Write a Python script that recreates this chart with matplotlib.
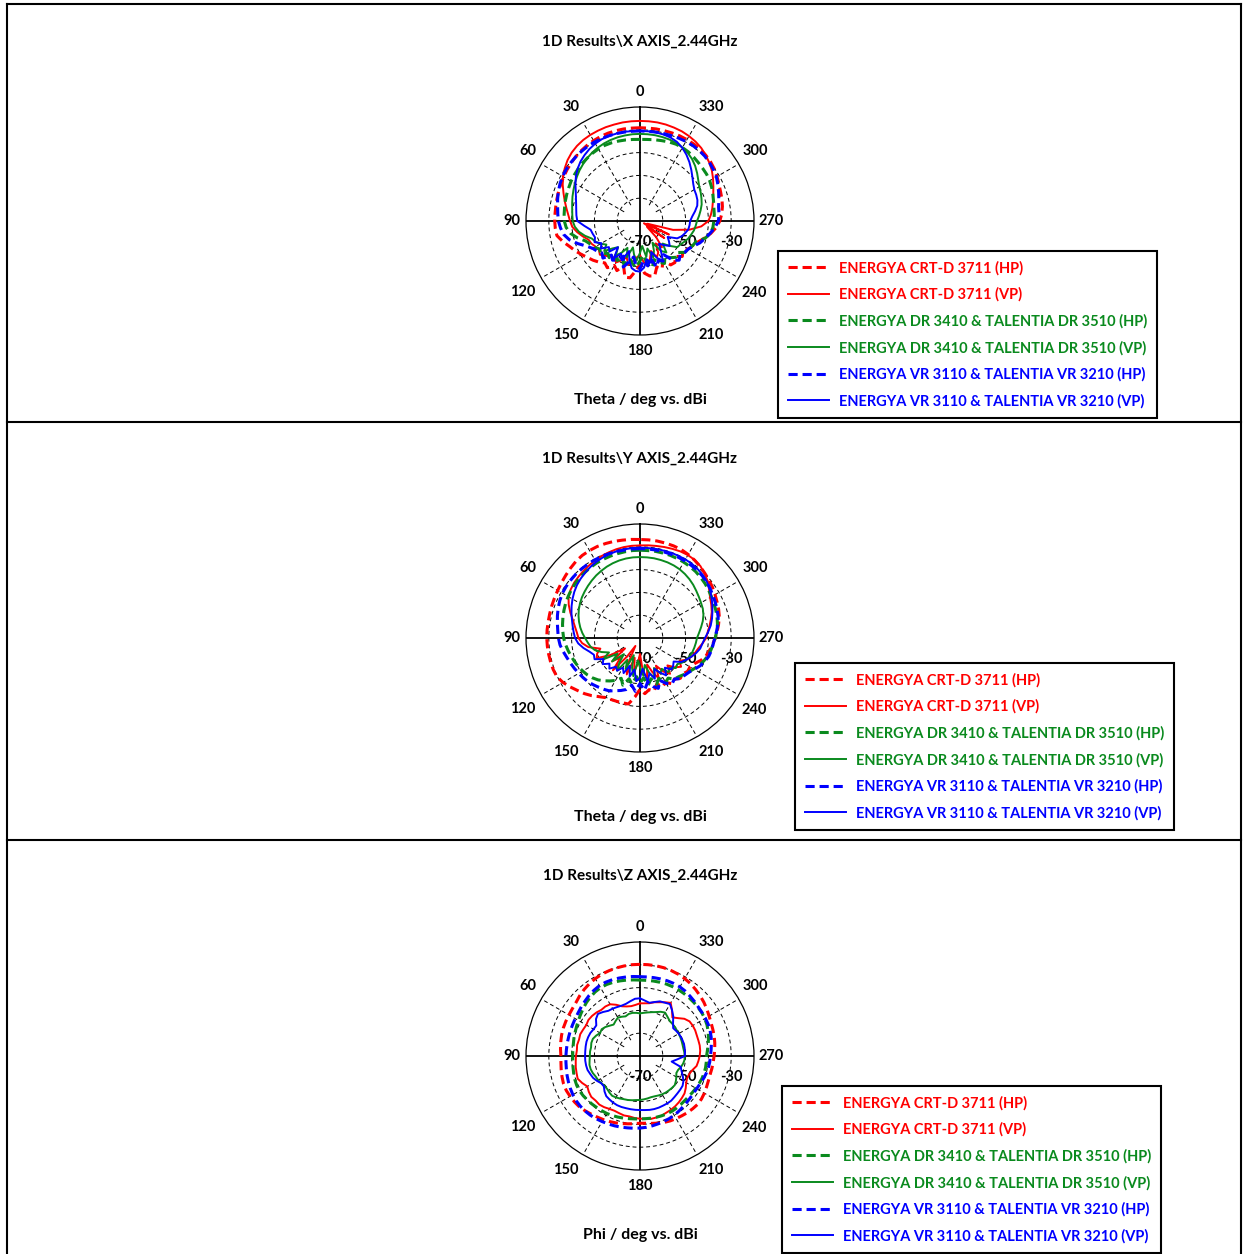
import numpy as np
import matplotlib
matplotlib.use("Agg")
import matplotlib.pyplot as plt
from matplotlib.lines import Line2D

plt.rcParams['font.family'] = ['Lato', 'DejaVu Sans']
plt.rcParams['font.weight'] = 'bold'

# angle grid of the measurements (deg), one value every 5 deg
angles = list(range(0, 360, 5))

# ---- X AXIS (Theta), dBi ----
x_crt_hp = [-29.1, -29.1, -29.0, -29.0, -29.0, -29.1, -29.3, -29.5, -29.8, -30.1, -30.5, -30.9,
            -31.3, -31.7, -32.0, -32.3, -32.5, -32.6, -32.6, -32.7, -33.0, -35.0, -37.2, -38.8,
            -40.5, -42.0, -43.2, -44.5, -46.0, -45.0, -47.5, -46.0, -49.0, -44.5, -44.7, -48.0,
            -51.0, -47.0, -45.5, -45.1, -48.5, -47.0, -50.0, -46.5, -46.2, -48.0, -45.8, -47.0,
            -45.5, -44.5, -43.0, -40.8, -38.5, -36.5, -35.0, -34.0, -33.3, -32.8, -32.4, -31.8,
            -31.0, -30.2, -29.6, -29.2, -28.9, -28.8, -28.8, -28.8, -28.9, -29.0, -29.0, -29.1]
x_crt_vp = [-26.1, -26.1, -26.1, -26.2, -26.2, -26.3, -26.4, -26.6, -27.0, -27.6, -28.5, -29.7,
            -31.0, -32.6, -34.3, -35.8, -37.2, -38.4, -39.3, -40.2, -42.0, -44.0, -46.0, -46.5,
            -47.5, -48.0, -47.0, -48.5, -49.5, -50.5, -49.0, -51.0, -53.0, -50.0, -52.0, -54.0,
            -55.0, -52.0, -50.5, -53.0, -56.0, -52.5, -54.0, -58.0, -55.0, -60.0, -66.0, -57.0,
            -68.0, -56.0, -66.5, -55.0, -48.0, -43.0, -40.0, -38.8, -37.8, -36.9, -35.8, -34.5,
            -33.0, -31.5, -30.3, -29.2, -28.2, -27.5, -27.0, -26.6, -26.4, -26.2, -26.1, -26.1]
x_dr_hp = [-34.2, -34.1, -33.9, -33.7, -33.5, -33.4, -33.5, -33.7, -34.0, -34.2, -34.5, -34.8,
           -35.1, -35.5, -35.8, -36.1, -36.4, -36.6, -36.8, -37.5, -39.0, -41.5, -44.5, -46.0,
           -47.0, -48.5, -47.5, -50.0, -49.0, -51.5, -50.0, -52.0, -49.5, -53.0, -51.0, -49.5,
           -52.5, -55.0, -51.0, -49.0, -52.0, -50.0, -48.5, -51.0, -49.0, -47.5, -48.5, -46.0,
           -45.5, -44.5, -43.8, -40.5, -38.6, -37.9, -37.6, -37.3, -37.1, -36.6, -36.0, -35.3,
           -34.7, -34.3, -34.1, -33.8, -33.4, -33.0, -32.8, -32.8, -33.1, -33.5, -33.8, -34.1]
x_dr_vp = [-31.8, -31.8, -31.9, -32.0, -32.2, -32.5, -32.9, -33.4, -34.0, -34.7, -35.4, -36.2,
           -37.0, -37.8, -38.5, -39.2, -39.8, -40.2, -40.5, -41.3, -42.8, -45.0, -47.5, -48.5,
           -50.0, -52.0, -49.5, -53.0, -55.0, -51.5, -54.0, -57.0, -53.0, -58.0, -55.0, -52.5,
           -56.0, -59.0, -54.0, -57.5, -53.0, -55.5, -59.0, -54.0, -52.0, -56.0, -53.0, -50.0,
           -49.5, -48.5, -47.5, -46.8, -46.0, -45.5, -45.0, -44.0, -43.0, -42.0, -41.3, -40.6,
           -40.0, -38.8, -37.3, -35.8, -34.5, -33.5, -32.8, -32.3, -32.0, -31.9, -31.8, -31.8]
x_vr_hp = [-30.5, -30.5, -30.4, -30.3, -30.2, -30.1, -30.0, -30.0, -30.1, -30.2, -30.3, -30.5,
           -30.8, -31.3, -31.9, -32.6, -33.3, -33.8, -34.2, -35.0, -36.0, -38.0, -41.0, -44.0,
           -46.0, -47.0, -48.2, -47.0, -50.5, -49.0, -50.3, -53.0, -48.5, -51.5, -54.0, -50.3,
           -49.0, -52.5, -50.0, -53.5, -48.5, -51.0, -49.7, -52.0, -47.5, -45.7, -47.0, -46.0,
           -45.5, -44.0, -42.0, -40.5, -38.8, -37.0, -35.6, -35.2, -35.0, -34.2, -33.3, -32.3,
           -31.3, -30.7, -30.2, -29.8, -29.6, -29.6, -29.7, -29.9, -30.1, -30.3, -30.4, -30.5]
x_vr_vp = [-30.5, -30.4, -30.3, -30.3, -30.3, -30.4, -30.8, -31.4, -32.2, -33.1, -34.3, -35.7,
           -37.3, -38.9, -40.1, -41.0, -41.6, -42.0, -42.5, -45.5, -48.0, -48.5, -49.0, -48.0,
           -50.5, -49.0, -52.2, -51.0, -55.0, -50.0, -53.5, -51.0, -56.0, -52.0, -49.0, -48.0,
           -47.8, -49.5, -53.0, -51.0, -55.5, -52.0, -50.0, -54.0, -57.0, -55.0, -53.0, -54.5,
           -56.0, -52.0, -50.5, -49.5, -48.5, -48.2, -48.0, -47.0, -45.5, -44.0, -43.2, -42.8,
           -42.5, -41.5, -40.0, -38.2, -36.3, -34.5, -32.9, -31.7, -31.0, -30.7, -30.5, -30.5]

# ---- Y AXIS (Theta), dBi ----
y_crt_hp = [-26.8, -26.6, -26.4, -26.1, -25.9, -25.7, -25.7, -25.8, -26.2, -26.8, -27.4, -27.9,
            -28.3, -28.6, -28.8, -29.0, -29.1, -29.1, -29.1, -29.2, -29.3, -29.4, -29.5, -29.8,
            -31.0, -32.6, -34.2, -35.5, -37.0, -38.6, -39.8, -40.2, -40.4, -40.6, -40.6, -44.0,
            -47.5, -45.5, -47.0, -46.0, -48.5, -46.5, -47.5, -45.5, -46.5, -45.0, -45.5, -44.5,
            -44.7, -43.5, -41.5, -40.0, -39.0, -38.0, -37.0, -36.0, -35.0, -34.0, -33.3, -32.7,
            -32.0, -31.2, -30.5, -29.8, -29.0, -28.3, -27.7, -27.2, -27.0, -26.9, -26.8, -26.8]
y_crt_vp = [-29.4, -29.4, -29.5, -29.7, -30.0, -30.3, -30.7, -31.1, -31.5, -31.9, -32.3, -32.9,
            -33.8, -35.5, -37.5, -39.5, -41.0, -42.2, -43.0, -44.5, -47.0, -52.0, -50.0, -49.0,
            -55.0, -62.0, -54.0, -58.0, -51.5, -60.0, -66.0, -57.0, -53.0, -61.0, -55.0, -58.5,
            -63.0, -55.0, -52.0, -58.0, -54.0, -50.5, -56.0, -52.0, -49.5, -53.0, -50.0, -48.0,
            -50.0, -47.5, -46.0, -45.0, -44.0, -42.5, -41.0, -40.2, -39.0, -37.8, -36.5, -35.5,
            -34.5, -33.0, -31.2, -30.0, -28.8, -28.2, -28.0, -28.1, -28.4, -28.7, -29.0, -29.2]
y_dr_hp = [-31.5, -31.5, -31.6, -31.7, -31.8, -31.9, -32.0, -32.2, -32.4, -32.6, -32.9, -33.2,
           -33.6, -34.0, -34.5, -35.0, -35.5, -36.0, -36.5, -37.2, -38.0, -38.8, -39.5, -40.2,
           -41.0, -41.8, -42.8, -44.0, -45.5, -47.0, -48.5, -50.5, -48.0, -51.5, -49.5, -53.0,
           -50.0, -52.5, -49.0, -51.5, -48.5, -50.5, -47.5, -48.5, -46.5, -46.0, -45.0, -44.0,
           -42.8, -41.5, -40.3, -39.3, -38.5, -37.8, -37.0, -36.2, -35.5, -35.0, -34.6, -34.2,
           -33.8, -33.3, -32.8, -32.4, -32.0, -31.8, -31.6, -31.5, -31.4, -31.4, -31.4, -31.5]
y_dr_vp = [-34.5, -34.5, -34.6, -34.8, -35.1, -35.5, -36.0, -36.5, -37.1, -37.7, -38.3, -38.9,
           -39.6, -40.4, -41.3, -42.3, -43.4, -44.6, -45.9, -47.0, -48.0, -49.5, -52.0, -55.0,
           -51.0, -58.0, -54.0, -60.0, -56.0, -52.5, -59.0, -55.0, -62.0, -56.5, -53.0, -60.0,
           -57.0, -53.5, -58.0, -54.0, -51.5, -55.5, -52.0, -53.5, -50.5, -51.5, -49.5, -50.0,
           -48.5, -47.5, -46.8, -46.2, -45.8, -45.4, -45.0, -44.0, -42.8, -41.5, -40.4, -39.6,
           -39.1, -38.5, -37.8, -37.0, -36.3, -35.7, -35.2, -34.9, -34.7, -34.6, -34.5, -34.5]
y_vr_hp = [-30.8, -30.8, -30.8, -30.7, -30.6, -30.5, -30.4, -30.3, -30.3, -30.3, -30.4, -30.5,
           -30.7, -31.2, -31.8, -32.5, -33.2, -33.8, -34.2, -34.8, -35.8, -36.8, -37.6, -38.3,
           -39.0, -39.6, -40.2, -41.0, -41.8, -42.5, -43.2, -44.5, -45.5, -46.6, -49.0, -46.5,
           -50.0, -47.0, -50.5, -48.0, -46.5, -49.5, -47.0, -45.5, -46.5, -44.8, -44.5, -43.8,
           -42.5, -41.0, -39.8, -38.8, -38.2, -37.8, -37.2, -36.3, -35.3, -34.5, -34.0, -33.5,
           -33.0, -32.4, -31.8, -31.4, -31.1, -31.0, -30.9, -30.8, -30.8, -30.8, -30.8, -30.8]
y_vr_vp = [-30.4, -30.4, -30.5, -30.6, -30.8, -31.1, -31.5, -32.0, -32.6, -33.2, -33.9, -34.8,
           -35.8, -36.9, -38.0, -39.1, -40.0, -40.8, -41.5, -42.8, -44.8, -47.0, -48.5, -48.0,
           -51.5, -50.0, -52.5, -51.0, -53.5, -52.5, -55.0, -53.0, -57.0, -52.5, -56.0, -51.0,
           -52.5, -56.5, -50.5, -54.0, -51.0, -55.0, -52.5, -50.0, -53.0, -50.5, -51.0, -52.0,
           -49.0, -47.5, -46.0, -44.5, -43.2, -42.5, -41.5, -40.0, -38.5, -37.3, -36.2, -35.0,
           -33.8, -32.6, -31.7, -31.0, -30.6, -30.3, -30.2, -30.2, -30.2, -30.3, -30.3, -30.4]

# ---- Z AXIS (Phi), dBi ----
z_crt_hp = [-29.8, -29.8, -29.9, -30.0, -30.2, -30.4, -30.8, -31.3, -31.9, -32.6, -33.4, -33.8,
            -34.0, -34.1, -34.2, -34.4, -34.7, -35.0, -35.3, -35.2, -34.9, -34.6, -34.3, -34.3,
            -34.6, -34.9, -35.3, -36.0, -36.7, -37.3, -37.8, -38.3, -38.8, -39.3, -39.8, -40.2,
            -40.5, -40.4, -40.0, -39.5, -39.0, -38.6, -38.3, -38.0, -37.6, -37.3, -37.0, -37.1,
            -37.4, -37.8, -38.1, -38.2, -38.0, -37.8, -37.5, -37.1, -36.7, -36.3, -36.0, -35.6,
            -35.0, -34.2, -33.4, -32.7, -32.0, -31.3, -30.8, -30.4, -30.1, -29.9, -29.8, -29.8]
z_crt_vp = [-46.9, -47.5, -47.8, -47.5, -46.8, -45.2, -43.8, -43.5, -43.6, -43.0, -42.6, -42.4,
            -42.8, -42.5, -42.1, -42.3, -42.0, -42.2, -41.9, -41.7, -41.4, -41.2, -40.9, -42.0,
            -43.3, -42.6, -42.1, -42.4, -42.2, -42.6, -43.2, -43.5, -43.3, -43.0, -43.1, -42.7,
            -42.5, -42.4, -42.0, -42.1, -42.2, -42.6, -42.8, -43.1, -43.5, -44.0, -44.5, -45.5,
            -46.6, -47.2, -47.0, -46.2, -44.8, -44.3, -43.8, -43.5, -43.4, -43.5, -43.5, -43.3,
            -43.3, -43.5, -44.6, -46.5, -47.9, -45.5, -43.1, -44.0, -44.9, -45.6, -46.5, -46.8]
z_dr_hp = [-36.7, -36.5, -36.2, -35.9, -35.6, -35.4, -35.4, -35.7, -36.2, -36.8, -37.5, -38.2,
           -38.8, -39.3, -39.7, -40.0, -40.3, -40.4, -40.5, -40.4, -40.2, -39.9, -39.6, -39.4,
           -39.4, -39.6, -39.9, -40.2, -40.5, -40.7, -40.9, -41.2, -41.5, -41.8, -42.1, -42.3,
           -42.4, -42.4, -42.3, -42.2, -42.1, -42.0, -42.0, -42.1, -42.2, -42.3, -42.2, -42.0,
           -41.7, -41.4, -41.1, -40.9, -40.8, -40.8, -40.8, -40.3, -39.6, -38.9, -38.2, -37.6,
           -37.2, -36.9, -36.8, -36.7, -36.6, -36.5, -36.4, -36.4, -36.4, -36.5, -36.6, -36.7]
z_dr_vp = [-51.3, -51.0, -50.8, -50.9, -51.5, -51.0, -50.6, -51.3, -52.0, -51.2, -50.2, -49.5,
           -49.8, -48.8, -48.0, -47.9, -48.2, -48.0, -48.0, -47.8, -47.5, -47.6, -48.0, -48.6,
           -48.8, -49.3, -49.7, -49.6, -49.1, -48.7, -49.0, -49.4, -49.8, -50.0, -50.3, -50.6,
           -50.7, -50.9, -51.1, -51.3, -51.2, -50.9, -50.6, -50.4, -50.3, -50.2, -50.1, -50.8,
           -51.6, -52.4, -52.2, -51.4, -50.8, -50.4, -50.4, -50.5, -50.7, -50.7, -50.6, -50.5,
           -50.4, -50.3, -50.1, -50.0, -49.8, -49.0, -48.0, -48.6, -49.5, -50.1, -50.6, -51.0]
z_vr_hp = [-35.2, -35.0, -34.8, -34.6, -34.4, -34.3, -34.4, -34.8, -35.3, -35.9, -36.4, -36.9,
           -37.2, -37.4, -37.5, -37.6, -37.6, -37.6, -37.5, -37.4, -37.2, -36.9, -36.6, -36.3,
           -36.0, -35.8, -35.8, -35.9, -36.1, -36.4, -36.8, -37.1, -37.4, -37.7, -38.0, -38.2,
           -38.4, -38.6, -38.9, -39.2, -39.5, -39.7, -40.0, -40.4, -40.8, -41.1, -41.3, -41.4,
           -41.3, -41.0, -40.5, -40.0, -39.6, -39.3, -39.1, -38.7, -38.2, -37.7, -37.3, -37.0,
           -36.9, -36.8, -36.6, -36.2, -35.8, -35.3, -35.0, -34.9, -34.9, -35.0, -35.1, -35.2]
z_vr_vp = [-44.7, -44.8, -45.6, -46.3, -46.5, -46.3, -46.0, -45.8, -44.8, -43.9, -44.8, -46.6,
           -46.5, -46.0, -45.8, -45.7, -45.8, -45.9, -45.9, -45.9, -46.0, -46.2, -46.8, -47.3,
           -48.2, -49.2, -49.3, -48.0, -47.0, -46.7, -46.4, -46.2, -46.2, -46.3, -46.3, -46.3,
           -46.3, -46.2, -46.0, -45.9, -45.9, -46.0, -46.0, -46.1, -46.5, -46.8, -47.0, -47.2,
           -48.0, -49.3, -50.6, -51.5, -55.9, -53.5, -50.3, -50.2, -50.1, -50.0, -50.1, -50.2,
           -50.4, -50.7, -51.0, -49.5, -47.3, -45.5, -43.7, -44.2, -44.5, -45.5, -46.3, -45.6]

series_labels = ["ENERGYA CRT-D 3711 (HP)", "ENERGYA CRT-D 3711 (VP)",
                 "ENERGYA DR 3410 & TALENTIA DR 3510 (HP)", "ENERGYA DR 3410 & TALENTIA DR 3510 (VP)",
                 "ENERGYA VR 3110 & TALENTIA VR 3210 (HP)", "ENERGYA VR 3110 & TALENTIA VR 3210 (VP)"]
series_colors = ['#ff0000', '#ff0000', '#0a8a1e', '#0a8a1e', '#0000ff', '#0000ff']
series_dashed = [True, False, True, False, True, False]

angle_labels = [0, 30, 60, 90, 120, 150, 180, 210, 240, 270, 300, 330]
ring_levels = [-60, -50, -40, -30]
r_labels = [-70, -50, -30]

W, H = 1243, 1254
fig = plt.figure(figsize=(W / 100, H / 100), dpi=100)

# title, x label, polar centre y, legend top-left (pixels)
panels = [
    (r"1D Results\X AXIS_2.44GHz", "Theta / deg vs. dBi", 42, 400, 221,
     [x_crt_hp, x_crt_vp, x_dr_hp, x_dr_vp, x_vr_hp, x_vr_vp], (778, 251)),
    (r"1D Results\Y AXIS_2.44GHz", "Theta / deg vs. dBi", 459, 817, 638,
     [y_crt_hp, y_crt_vp, y_dr_hp, y_dr_vp, y_vr_hp, y_vr_vp], (795, 663)),
    (r"1D Results\Z AXIS_2.44GHz", "Phi / deg vs. dBi", 876, 1235, 1056,
     [z_crt_hp, z_crt_vp, z_dr_hp, z_dr_vp, z_vr_hp, z_vr_vp], (782, 1086)),
]

R = 114  # polar radius in px
dash = (0, (3.0, 1.6))
theta = np.radians(angles + [360])

# where the angle labels sit: (direction in deg, distance from centre in px)
label_place = {0: (0, 129), 30: (31, 133), 60: (58, 132), 90: (90, 128), 120: (121, 137),
               150: (147, 136), 180: (180, 130), 210: (212, 134), 240: (238, 135),
               270: (270, 131), 300: (301, 135), 330: (328, 134)}

for title, xlab, ty, ly, cy, data, lpos in panels:
    ax = fig.add_axes([(640 - R) / W, 1 - (cy + R) / H, 2 * R / W, 2 * R / H], projection='polar')
    ax.set_theta_zero_location('N')
    ax.set_theta_direction(1)
    ax.set_rlim(-70, -20)
    ax.set_xticks([])
    ax.set_yticks([])
    ax.grid(False)
    ax.spines['polar'].set_linewidth(0.9)

    # grid
    circ = np.linspace(0, 2 * np.pi, 361)
    for lv in ring_levels:
        ax.plot(circ, [lv] * len(circ), color='black', lw=0.7, ls=(0, (4, 3)), zorder=1)
    for a in range(0, 360, 30):
        t = np.radians(a)
        if a % 90 == 0:
            ax.plot([t, t], [-70, -20], color='black', lw=1.3, zorder=1)
        else:
            ax.plot([t, t], [-62, -20], color='black', lw=0.7, ls=(0, (4, 3)), zorder=1)
    for a in angle_labels:
        ang, dist = label_place[a]
        ax.text(np.radians(ang), -70 + dist * 50 / R, str(a), ha='center', va='center',
                fontsize=10.5, fontweight='bold', clip_on=False)
    for v in r_labels:
        ax.annotate(str(v), xy=(np.radians(270), v), xytext=(0, -15), textcoords='offset points',
                    ha='center', va='center', fontsize=10.5, fontweight='bold', zorder=2)

    handles = []
    for vals, c, d, lab in zip(data, series_colors, series_dashed, series_labels):
        if d:
            ln, = ax.plot(theta, vals + [vals[0]], color=c, lw=2.2, ls=dash, zorder=3, label=lab)
        else:
            ln, = ax.plot(theta, vals + [vals[0]], color=c, lw=1.4, zorder=3, label=lab)
        handles.append(ln)

    fig.text(640 / W, 1 - ty / H, title, ha='center', va='center', fontsize=11, fontweight='bold')
    fig.text(640 / W, 1 - ly / H, xlab, ha='center', va='center', fontsize=11.5, fontweight='bold')

    leg = fig.legend(handles, series_labels, loc='upper left',
                     bbox_to_anchor=(lpos[0] / W, 1 - lpos[1] / H), bbox_transform=fig.transFigure,
                     borderaxespad=0, labelcolor='linecolor', fancybox=False,
                     framealpha=1, edgecolor='black', handlelength=2.8, handletextpad=0.7,
                     labelspacing=0.83, borderpad=0.68, prop={'weight': 'bold', 'size': 10.5})
    leg.get_frame().set_linewidth(1.5)

# table borders
for xs, ys in [([7, 1241], [4, 4]), ([7, 1241], [422, 422]), ([7, 1241], [840, 840]),
               ([7, 7], [4, 1254]), ([1241, 1241], [4, 1254])]:
    fig.add_artist(Line2D([x / W for x in xs], [1 - y / H for y in ys],
                          transform=fig.transFigure, color='black', lw=1.5))

fig.savefig("out.png", dpi=100)
